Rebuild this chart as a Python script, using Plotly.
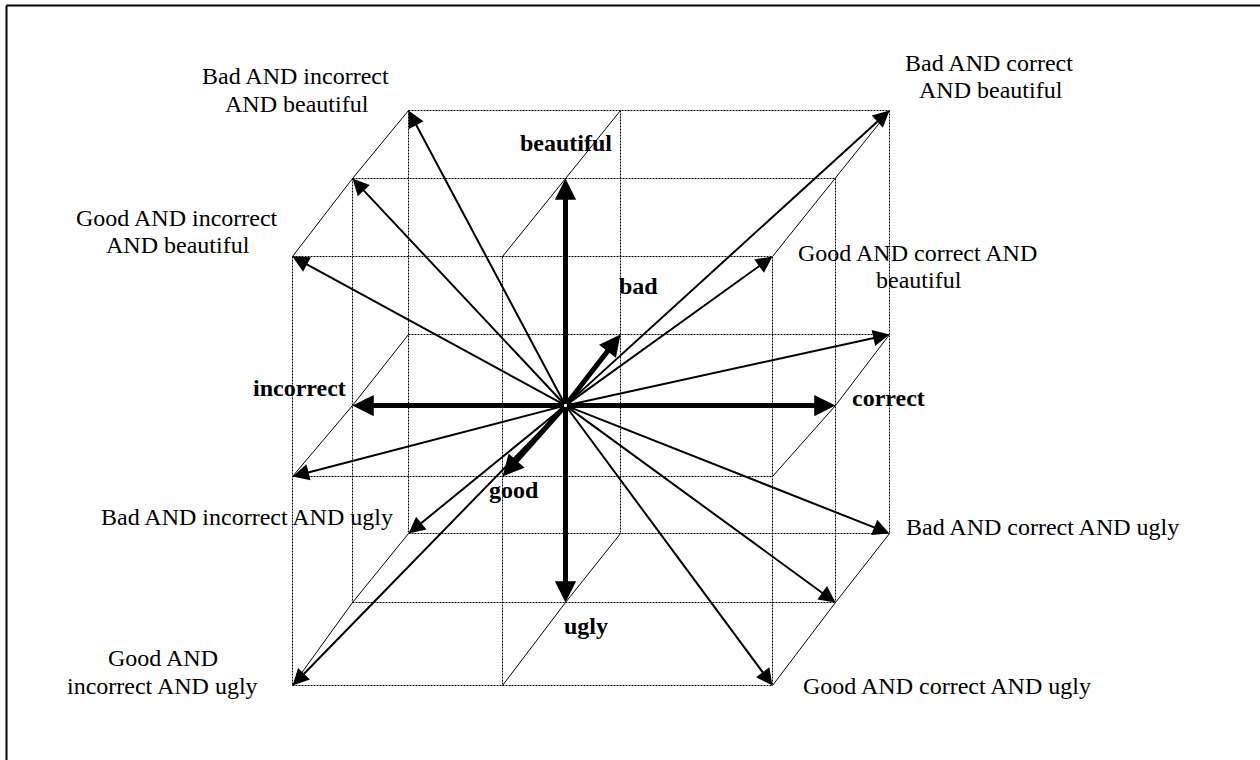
import plotly.graph_objects as go

# ---------------- data ----------------
# three projected depth layers: front = "good", middle, back = "bad"
LAYERS = ["good", "middle", "bad"]
# column positions for incorrect / neutral / correct on each layer
COL_X = {
    "good":   [292, 502, 772],
    "middle": [352, 565, 835],
    "bad":    [408, 620, 889],
}
# row positions for beautiful / neutral / ugly on each layer
ROW_Y = {
    "good":   [256, 476, 685],
    "middle": [178, 405, 602],
    "bad":    [110, 334, 533],
}
ORIGIN = (1, 1, "middle")

# thin arrows: combined directions (column idx, row idx, layer)
THIN_TARGETS = [
    (0, 0, "bad"), (0, 0, "middle"), (0, 0, "good"),
    (2, 0, "bad"), (2, 0, "good"), (2, 1, "bad"),
    (0, 1, "good"), (0, 2, "bad"), (0, 2, "good"),
    (2, 2, "bad"), (2, 2, "middle"), (2, 2, "good"),
]
# thick arrows: the basic axes
AXIS_NAMES = ["beautiful", "ugly", "incorrect", "correct", "bad", "good"]
AXIS_TARGETS = [(1, 0, "middle"), (1, 2, "middle"), (0, 1, "middle"),
                (2, 1, "middle"), (1, 1, "bad"), (1, 1, "good")]
AXIS_LABEL_POS = [(565, 142), (585, 625), (299, 387), (888, 397), (638, 285), (513, 489)]

# corner labels (lines of text)
CORNER_LINES = [
    "Bad AND incorrect", "AND beautiful",
    "Bad AND correct", "AND beautiful",
    "Good AND incorrect", "AND beautiful",
    "Good AND correct AND", "beautiful",
    "Bad AND incorrect AND ugly",
    "Bad AND correct AND ugly",
    "Good AND", "incorrect AND ugly",
    "Good AND correct AND ugly",
]
CORNER_POS = [
    (295, 75), (296, 103),
    (988, 62), (990, 89),
    (176, 217), (177, 244),
    (917, 252), (918, 279),
    (246, 516),
    (1042, 526),
    (162, 657), (162, 685),
    (946, 685),
]

FONT = "Liberation Serif, Times New Roman, serif"
FS = 24


def pt(i, j, layer):
    return COL_X[layer][i], ROW_Y[layer][j]


# ---------------- figure ----------------
fig = go.Figure()

# dotted grid lines on each layer
dx, dy = [], []
for layer in LAYERS:
    for j in range(3):
        if layer == "middle" and j == 1:
            continue
        (x0, y0), (x1, y1) = pt(0, j, layer), pt(2, j, layer)
        dx += [x0, x1, None]
        dy += [y0, y1, None]
    for i in range(3):
        if layer == "middle" and i == 1:
            continue
        (x0, y0), (x1, y1) = pt(i, 0, layer), pt(i, 2, layer)
        dx += [x0, x1, None]
        dy += [y0, y1, None]
fig.add_trace(go.Scatter(x=dx, y=dy, mode="lines", hoverinfo="skip",
                         line=dict(color="black", width=1, dash="2px,1px")))

# depth edges (thin solid)
ex, ey = [], []
for i in range(3):
    for j in range(3):
        if i == 1 and j == 1:
            continue
        for layer in LAYERS:
            x, y = pt(i, j, layer)
            ex.append(x)
            ey.append(y)
        ex.append(None)
        ey.append(None)
fig.add_trace(go.Scatter(x=ex, y=ey, mode="lines", hoverinfo="skip",
                         line=dict(color="black", width=1)))

ox, oy = pt(*ORIGIN)

# thin arrows
for t in THIN_TARGETS:
    x, y = pt(*t)
    fig.add_annotation(x=x, y=y, ax=ox, ay=oy, xref="x", yref="y", axref="x", ayref="y",
                       text="", showarrow=True, arrowhead=2, arrowsize=1.65,
                       arrowwidth=2, arrowcolor="black", standoff=0, startstandoff=0)

# thick arrows
for t in AXIS_TARGETS:
    x, y = pt(*t)
    fig.add_annotation(x=x, y=y, ax=ox, ay=oy, xref="x", yref="y", axref="x", ayref="y",
                       text="", showarrow=True, arrowhead=2, arrowsize=0.85,
                       arrowwidth=5, arrowcolor="black", standoff=0, startstandoff=0)

# axis labels (bold)
for name, (x, y) in zip(AXIS_NAMES, AXIS_LABEL_POS):
    fig.add_annotation(x=x, y=y, xref="x", yref="y", text="<b>" + name + "</b>",
                       showarrow=False, xanchor="center", yanchor="middle",
                       font=dict(family=FONT, size=FS, color="black"))

# corner labels
for line, (x, y) in zip(CORNER_LINES, CORNER_POS):
    fig.add_annotation(x=x, y=y, xref="x", yref="y", text=line,
                       showarrow=False, xanchor="center", yanchor="middle",
                       font=dict(family=FONT, size=FS, color="black"))

# frame (left and top edges visible)
fig.add_shape(type="line", x0=6, y0=5, x1=6, y1=800, xref="x", yref="y",
              line=dict(color="black", width=2))
fig.add_shape(type="line", x0=6, y0=5, x1=1300, y1=5, xref="x", yref="y",
              line=dict(color="black", width=2))

fig.update_layout(
    width=1260, height=760,
    margin=dict(l=0, r=0, t=0, b=0),
    paper_bgcolor="white", plot_bgcolor="white",
    showlegend=False,
    hovermode=False,
    xaxis=dict(range=[-0.5, 1259.5], visible=False, fixedrange=True),
    yaxis=dict(range=[759.5, -0.5], visible=False, fixedrange=True),
)

fig.write_html("out.html",
               config={"displayModeBar": False, "staticPlot": True},
               post_script="document.body.style.margin='0';document.body.style.padding='0';")
